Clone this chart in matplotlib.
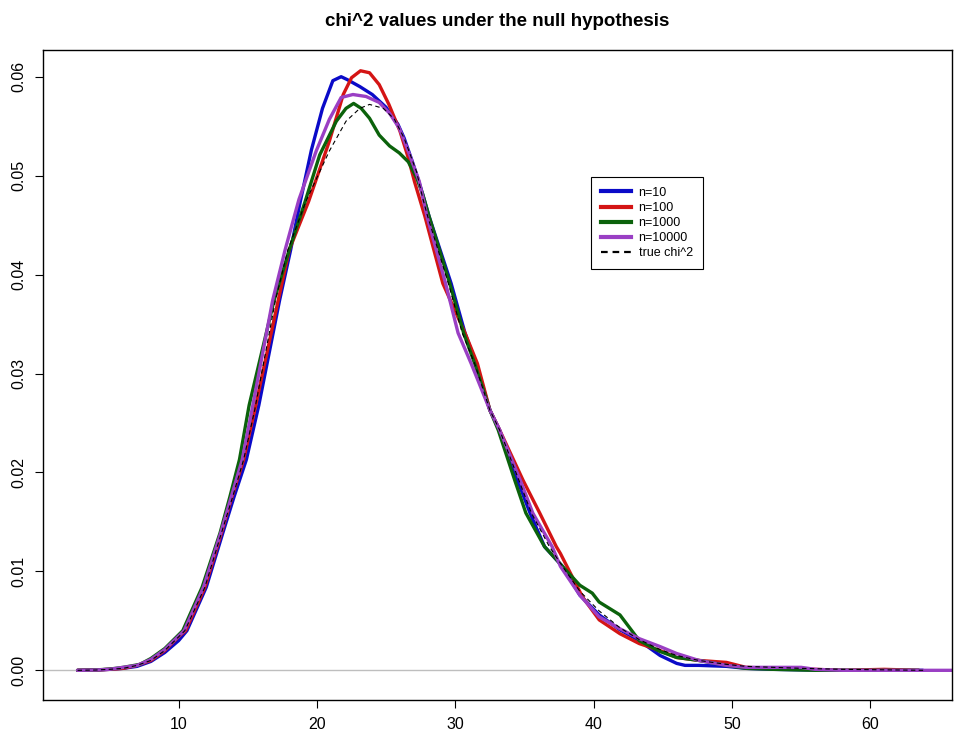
import numpy as np
import matplotlib
matplotlib.use("Agg")
import matplotlib.pyplot as plt
from matplotlib.lines import Line2D

plt.rcParams['font.family'] = ['Liberation Sans', 'DejaVu Sans']

# density curves
x_n10 = [2.7, 4, 5, 6, 7, 8, 9, 10, 10.6, 12.0, 13.2, 14.0, 14.9, 15.8, 17.3, 18.1, 18.8,
         19.6, 20.4, 21.15, 21.75, 22.2, 23.1, 24.0, 25.0, 25.85, 26.3, 26.9, 27.5, 28.1,
         29.7, 30.7, 31.5, 32.5, 33.2, 34.5, 35.4, 36.45, 37.75, 39.0, 40.4, 41.9, 43.3,
         44.8, 46.0, 46.6, 47.6, 49.6, 51.0, 53, 55, 58, 61, 63.8]
y_n10 = [0, 0.00003, 0.0001, 0.0002, 0.0004, 0.0009, 0.0018, 0.0030, 0.0040, 0.0084,
         0.0139, 0.0175, 0.0213, 0.0268, 0.0374, 0.0425, 0.0474, 0.0526, 0.0568, 0.0596,
         0.0600, 0.0597, 0.0590, 0.0582, 0.0569, 0.0552, 0.0538, 0.0514, 0.0488, 0.0459,
         0.0391, 0.0341, 0.0310, 0.0263, 0.0243, 0.0192, 0.0159, 0.0125, 0.0105, 0.0076,
         0.0056, 0.0041, 0.0030, 0.0015, 0.0007, 0.0005, 0.0005, 0.0004, 0.0002, 0.0001,
         0.00005, 0.0, 0.0, 0.0]

x_n100 = [2.7, 4, 5, 6, 7, 8, 9, 10, 10.5, 11.9, 13.1, 13.85, 14.7, 15.5, 17.2, 18.0, 19.4,
          20.9, 21.9, 22.5, 23.15, 23.8, 24.5, 25.2, 26.0, 26.6, 27.05, 27.8, 29.1, 30.7,
          31.6, 32.5, 33.2, 34.9, 36.1, 37.3, 37.6, 39.2, 40.4, 41.9, 43.3, 44.8, 46.0,
          47.6, 49.6, 51.0, 53, 56, 58, 61, 63.5]
y_n100 = [0, 0.00003, 0.0001, 0.0002, 0.0005, 0.0010, 0.0020, 0.0034, 0.0040, 0.0084,
          0.0139, 0.0175, 0.0213, 0.0263, 0.0374, 0.0425, 0.0474, 0.0535, 0.0582, 0.0599,
          0.0606, 0.0604, 0.0592, 0.0572, 0.0545, 0.0518, 0.0494, 0.0459, 0.0391, 0.0341,
          0.0310, 0.0263, 0.0243, 0.0192, 0.0159, 0.0125, 0.0118, 0.0074, 0.0051, 0.0037,
          0.0027, 0.0020, 0.0013, 0.0010, 0.0008, 0.0003, 0.0002, 0.0001, 0.0, 0.0001, 0.0]

x_n1000 = [2.7, 4, 5, 6, 7.2, 8, 9, 10.3, 11.7, 13.0, 13.7, 14.4, 15.1, 16.9, 18.0, 19.15,
           20.2, 21.4, 22.1, 22.65, 23.2, 23.8, 24.5, 25.25, 25.95, 26.6, 27.2, 27.65, 28.1,
           29.6, 30.6, 31.4, 32.5, 33.1, 34.3, 35.1, 36.45, 37.75, 39.0, 39.9, 40.4, 41.9,
           43.3, 44.8, 46.0, 47.6, 49.6, 51.0, 53, 56, 60, 63.5]
y_n1000 = [0, 0.00004, 0.00012, 0.0003, 0.0006, 0.0012, 0.0022, 0.0040, 0.0084, 0.0139,
           0.0175, 0.0213, 0.0268, 0.0374, 0.0425, 0.0474, 0.0521, 0.0555, 0.0568, 0.0573,
           0.0568, 0.0558, 0.0541, 0.0530, 0.0523, 0.0514, 0.0498, 0.0481, 0.0459, 0.0391,
           0.0341, 0.0310, 0.0263, 0.0243, 0.0192, 0.0159, 0.0125, 0.0105, 0.0086, 0.0078,
           0.0069, 0.0056, 0.0030, 0.0019, 0.0013, 0.0010, 0.0005, 0.0002, 0.0001, 0.0,
           0.0, 0.0]

x_n10000 = [2.7, 4, 5, 6, 7, 8, 9, 10.4, 11.8, 13.05, 13.8, 14.6, 15.3, 16.8, 17.7, 18.7,
            19.95, 20.9, 21.75, 22.6, 23.55, 24.5, 25.25, 25.95, 26.7, 27.4, 27.95, 29.3,
            30.2, 31.15, 32.5, 33.2, 34.7, 35.6, 37.0, 37.6, 39.0, 40.4, 41.9, 43.3, 44.8,
            46.0, 47.6, 49.6, 51.0, 52.5, 55, 56, 58, 62, 68]
y_n10000 = [0, 0.00003, 0.0001, 0.0003, 0.0005, 0.0011, 0.0021, 0.0040, 0.0084, 0.0139,
            0.0175, 0.0213, 0.0263, 0.0374, 0.0425, 0.0476, 0.0525, 0.0557, 0.0579, 0.0582,
            0.0580, 0.0574, 0.0563, 0.0548, 0.0521, 0.0494, 0.0459, 0.0391, 0.0341, 0.0310,
            0.0263, 0.0243, 0.0192, 0.0159, 0.0125, 0.0105, 0.0076, 0.0054, 0.0042, 0.0032,
            0.0024, 0.0017, 0.0010, 0.0005, 0.0003, 0.0003, 0.0003, 0.0001, 0.0, 0.0, 0.0]

x_true = [2.7, 4, 5, 6, 7, 8, 9, 10.45, 11.9, 13.1, 13.9, 14.7, 15.5, 17.0, 17.9, 19.2,
          20.9, 22.1, 23.1, 23.8, 24.8, 25.6, 26.3, 27.2, 27.65, 28.0, 29.5, 30.5, 31.4,
          32.5, 33.2, 34.6, 35.5, 36.8, 37.75, 39.0, 40.4, 41.9, 43.3, 44.8, 46, 47.6, 49.6,
          51, 53, 55, 58, 61, 64]
y_true = [0, 0.00003, 0.0001, 0.0002, 0.0005, 0.0010, 0.0020, 0.0040, 0.0084, 0.0139,
          0.0175, 0.0213, 0.0263, 0.0374, 0.0425, 0.0474, 0.0525, 0.0555, 0.0568, 0.0572,
          0.0568, 0.0557, 0.0538, 0.0504, 0.0477, 0.0459, 0.0391, 0.0341, 0.0310, 0.0263,
          0.0243, 0.0192, 0.0159, 0.0125, 0.0105, 0.0080, 0.0060, 0.0043, 0.0031, 0.0021,
          0.0015, 0.0010, 0.0006, 0.0004, 0.0003, 0.0002, 0.0001, 0.00005, 0.0]

labels = ["n=10", "n=100", "n=1000", "n=10000", "true chi^2"]
colors = ["#0a0ac8", "#d41414", "#0b620b", "#9a3fc4", "black"]
xticks = [10, 20, 30, 40, 50, 60]
yticks = [0.00, 0.01, 0.02, 0.03, 0.04, 0.05, 0.06]

fig = plt.figure(figsize=(9.71, 7.36), dpi=100)
ax = fig.add_axes([43 / 971, 36 / 736, 909 / 971, 650 / 736])

ax.axhline(0, color="#bebebe", lw=1, zorder=1)

series = [(x_n10, y_n10), (x_n100, y_n100), (x_n1000, y_n1000), (x_n10000, y_n10000)]
for (xs, ys), c in zip(series, colors[:4]):
    ax.plot(xs, ys, color=c, lw=2.4, solid_joinstyle="round", solid_capstyle="round", zorder=2)
ax.plot(x_true, y_true, color="black", lw=0.8, ls=(0, (4, 3)), zorder=3)

ax.set_xlim(0.2, 65.9)
ax.set_ylim(-0.003, 0.0627)
ax.set_xticks(xticks)
ax.set_yticks(yticks)
ax.set_yticklabels(["%.2f" % v for v in yticks], rotation=90, va="center")
ax.tick_params(direction="out", length=6, width=0.8, labelsize=11.5, pad=6)
for s in ax.spines.values():
    s.set_linewidth(1)

ax.set_title("chi^2 values under the null hypothesis", fontsize=13.5,
             fontweight="bold", pad=17)

# legend handles like R's legend(lwd=...)
handles = [Line2D([], [], color=c, lw=3) for c in colors[:4]]
handles.append(Line2D([], [], color="black", lw=1.6, ls=(0, (3, 2.2))))
leg = ax.legend(handles, labels, loc="upper left", bbox_to_anchor=(0.603, 0.805),
                borderaxespad=0, fontsize=9, fancybox=False, edgecolor="black",
                framealpha=1, handlelength=2.4, borderpad=0.8, labelspacing=0.25,
                handletextpad=0.6)
leg.get_frame().set_linewidth(0.8)

fig.savefig("out.png", dpi=100)
